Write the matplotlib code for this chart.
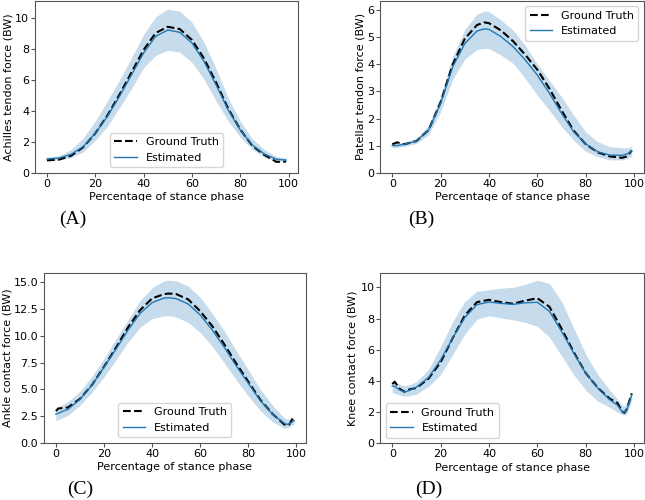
import numpy as np
import matplotlib
matplotlib.use('Agg')
import matplotlib.pyplot as plt
from matplotlib.transforms import Bbox, TransformedBbox

plt.rcParams['font.family'] = 'DejaVu Sans'
plt.rcParams['font.size'] = 8.0

# ---- Panel A: Achilles tendon force ----
x_a = [0, 5, 10, 15, 20, 25, 30, 35, 40, 45, 50, 55, 60, 65, 70, 75, 80, 85, 90, 95, 99]
est_a = [0.89, 0.95, 1.19, 1.69, 2.55, 3.64, 4.94, 6.34, 7.75, 8.83, 9.24, 9.09, 8.40, 7.21,
         5.69, 4.07, 2.77, 1.80, 1.21, 0.87, 0.82]
gt_a = [0.80, 0.85, 1.10, 1.65, 2.55, 3.70, 5.05, 6.50, 7.95, 9.05, 9.45, 9.30, 8.60, 7.40,
        5.85, 4.15, 2.80, 1.75, 1.15, 0.70, 0.72]
up_a = [1.00, 1.10, 1.50, 2.25, 3.35, 4.65, 6.00, 7.45, 8.95, 10.10, 10.60, 10.45, 9.75, 8.45,
        6.75, 4.85, 3.35, 2.20, 1.50, 1.05, 0.95]
lo_a = [0.78, 0.82, 0.98, 1.35, 2.10, 3.00, 4.20, 5.45, 6.80, 7.60, 7.92, 7.80, 7.15, 6.05,
        4.65, 3.35, 2.30, 1.50, 1.00, 0.75, 0.70]
yt_a = [0, 2, 4, 6, 8, 10]

# ---- Panel B: Patellar tendon force ----
x_b = [0, 2, 5, 10, 15, 20, 25, 30, 35, 38, 40, 45, 50, 55, 60, 65, 70, 75, 80, 85, 90, 95, 97, 99]
est_b = [1.00, 1.00, 1.05, 1.17, 1.57, 2.56, 3.91, 4.77, 5.23, 5.31, 5.29, 5.02, 4.65, 4.16,
         3.60, 2.93, 2.19, 1.51, 1.06, 0.77, 0.65, 0.64, 0.69, 0.80]
gt_b = [1.05, 1.12, 1.05, 1.17, 1.57, 2.60, 4.00, 4.95, 5.45, 5.55, 5.52, 5.25, 4.85, 4.35,
        3.80, 3.10, 2.30, 1.55, 1.05, 0.75, 0.60, 0.55, 0.60, 0.82]
up_b = [1.10, 1.10, 1.12, 1.27, 1.75, 2.85, 4.30, 5.30, 5.85, 5.97, 5.95, 5.63, 5.26, 4.70,
        4.00, 3.40, 2.80, 2.13, 1.50, 1.14, 0.96, 0.92, 0.92, 0.96]
lo_b = [0.92, 0.93, 0.97, 1.08, 1.40, 2.25, 3.45, 4.20, 4.55, 4.59, 4.58, 4.34, 4.03, 3.48,
        2.85, 2.30, 1.70, 1.20, 0.78, 0.59, 0.47, 0.47, 0.52, 0.62]
yt_b = [0, 1, 2, 3, 4, 5, 6]

# ---- Panel C: Ankle contact force ----
x_c = [0, 1, 3, 5, 10, 15, 20, 25, 30, 35, 40, 45, 47, 50, 55, 60, 65, 70, 75, 80, 85, 90, 95, 96, 97, 99]
est_c = [2.68, 2.75, 2.95, 3.12, 4.05, 5.39, 7.05, 8.76, 10.54, 12.10, 13.10, 13.53, 13.56, 13.47,
         12.97, 11.94, 10.54, 8.92, 7.17, 5.55, 3.93, 2.68, 1.81, 1.71, 1.78, 2.06]
gt_c = [2.95, 3.20, 3.25, 3.30, 4.10, 5.40, 7.10, 8.90, 10.80, 12.40, 13.50, 13.90, 13.95, 13.90,
        13.40, 12.30, 10.90, 9.20, 7.40, 5.70, 4.00, 2.70, 1.70, 1.60, 1.70, 2.50]
up_c = [3.25, 3.35, 3.60, 3.85, 4.80, 6.20, 7.90, 9.70, 11.50, 13.30, 14.50, 15.15, 15.20, 15.15,
        14.65, 13.60, 12.10, 10.45, 8.60, 6.80, 5.00, 3.50, 2.30, 2.20, 2.20, 2.30]
lo_c = [2.05, 2.15, 2.35, 2.55, 3.50, 4.70, 6.15, 7.75, 9.40, 10.80, 11.60, 11.85, 11.88, 11.75,
        11.25, 10.30, 9.00, 7.45, 5.85, 4.35, 3.00, 1.95, 1.35, 1.35, 1.45, 1.75]
yt_c = [0.0, 2.5, 5.0, 7.5, 10.0, 12.5, 15.0]

# ---- Panel D: Knee contact force ----
x_d = [0, 1, 3, 5, 7, 10, 15, 20, 25, 30, 35, 40, 45, 50, 55, 60, 65, 70, 75, 80, 85, 90, 93, 95, 96, 97, 99]
est_d = [3.68, 3.64, 3.43, 3.28, 3.38, 3.60, 4.22, 5.35, 6.75, 8.07, 8.89, 9.06, 8.97, 8.91,
         9.01, 9.04, 8.46, 7.17, 5.78, 4.50, 3.53, 2.78, 2.46, 2.03, 1.97, 2.14, 3.10]
gt_d = [3.80, 3.95, 3.50, 3.30, 3.45, 3.55, 4.15, 5.20, 6.75, 8.20, 9.05, 9.20, 9.05, 8.95,
        9.15, 9.30, 8.75, 7.35, 5.85, 4.50, 3.55, 2.85, 2.60, 2.05, 1.95, 2.20, 3.20]
up_d = [3.96, 3.90, 3.80, 3.70, 3.75, 3.95, 4.75, 6.20, 7.80, 9.10, 9.75, 9.85, 9.95, 10.00,
        10.20, 10.45, 10.25, 9.10, 7.40, 5.70, 4.40, 3.40, 2.85, 2.46, 2.40, 2.60, 3.35]
lo_d = [3.25, 3.20, 3.10, 3.00, 3.05, 3.15, 3.65, 4.40, 5.70, 7.00, 7.95, 8.18, 8.03, 7.92,
        7.75, 7.50, 6.80, 5.60, 4.40, 3.40, 2.70, 2.30, 2.00, 1.85, 1.80, 1.90, 2.75]
yt_d = [0, 2, 4, 6, 8, 10]

xt = [0, 20, 40, 60, 80, 100]

panels = [
    dict(x=x_a, est=est_a, gt=gt_a, up=up_a, lo=lo_a, yt=yt_a, fmt='{:g}',
         ylabel='Achilles tendon force (BW)', rect=[0.0543, 0.6546, 0.4078, 0.3428], ylim=11.1,
         legend='lower center', ylab_x=-0.080, xlab_y=-0.114, clip=0.599,
         tag='(A)', tagpos=(0.113, 0.561)),
    dict(x=x_b, est=est_b, gt=gt_b, up=up_b, lo=lo_b, yt=yt_b, fmt='{:g}',
         ylabel='Patellar tendon force (BW)', rect=[0.5896, 0.6546, 0.4084, 0.3440], ylim=6.35,
         legend='upper right', ylab_x=-0.055, xlab_y=-0.114, clip=0.599,
         tag='(B)', tagpos=(0.653, 0.561)),
    dict(x=x_c, est=est_c, gt=gt_c, up=up_c, lo=lo_c, yt=yt_c, fmt='{:.1f}',
         ylabel='Ankle contact force (BW)', rect=[0.0682, 0.1146, 0.4062, 0.3400], ylim=15.9,
         legend='lower center', ylab_x=-0.122, xlab_y=-0.113, clip=None,
         tag='(C)', tagpos=(0.125, 0.021)),
    dict(x=x_d, est=est_d, gt=gt_d, up=up_d, lo=lo_d, yt=yt_d, fmt='{:g}',
         ylabel='Knee contact force (BW)', rect=[0.5896, 0.1134, 0.4084, 0.3400], ylim=10.9,
         legend='lower left', ylab_x=-0.085, xlab_y=-0.116, clip=0.055,
         tag='(D)', tagpos=(0.664, 0.021)),
]

fig = plt.figure(figsize=(6.45, 5.0), dpi=100)

for p in panels:
    ax = fig.add_axes(p['rect'])
    ax.fill_between(p['x'], p['lo'], p['up'], color='#1f77b4', alpha=0.25, linewidth=0)
    ax.plot(p['x'], p['gt'], color='black', linestyle='--', linewidth=1.5, label='Ground Truth')
    ax.plot(p['x'], p['est'], color='#1f77b4', linewidth=1.0, label='Estimated')
    ax.set_xlim(-4.95, 103.95)
    ax.set_ylim(0, p['ylim'])
    ax.set_xticks(xt)
    ax.set_yticks(p['yt'])
    ax.set_yticklabels([p['fmt'].format(v) for v in p['yt']])
    ax.set_xlabel('Percentage of stance phase')
    ax.set_ylabel(p['ylabel'])
    ax.xaxis.set_label_coords(0.5, p['xlab_y'])
    ax.yaxis.set_label_coords(p['ylab_x'], 0.5)
    for s in ax.spines.values():
        s.set_color('#555555')
        s.set_linewidth(0.8)
    ax.tick_params(color='#555555', length=3, pad=1.2)
    ax.legend(loc=p['legend'], fontsize=8.0)
    if p['clip'] is not None:
        # the source image cuts these x labels off at the bottom
        lab = ax.xaxis.label
        lab.set_clip_box(TransformedBbox(Bbox([[0, p['clip']], [1, 1]]), fig.transFigure))
        lab.set_clip_on(True)
    fig.text(p['tagpos'][0], p['tagpos'][1], p['tag'], family='Liberation Serif',
             fontsize=14, ha='center', va='center')

fig.savefig('out.png', dpi=100)
